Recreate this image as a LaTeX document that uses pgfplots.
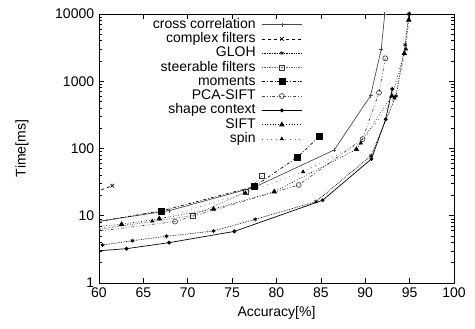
\documentclass[border=0pt]{standalone}
\usepackage{pgfplots}
\pgfplotsset{compat=1.18}
\usepackage{fontspec}
\setmainfont{Liberation Sans}
\begin{document}
\fontsize{14}{16}\selectfont
\begin{tikzpicture}[x=1pt,y=1pt]
\begin{axis}[
  at={(0,0)}, anchor=south west,
  width=355pt, height=269pt, scale only axis,
  xmin=60, xmax=100, ymin=1, ymax=10000,
  ymode=log,
  xtick={60,65,...,100},
  ytick={1,10,100,1000,10000},
  yticklabels={1,10,100,1000,10000},
  /pgf/number format/assume math mode=true,
  tick align=inside,
  major tick length=5pt, minor tick length=3pt,
  axis line style={line width=0.9pt},
  tick style={line width=0.6pt, black},
  xlabel={Accuracy[\%]}, ylabel={Time[ms]},
  xlabel style={at={(axis description cs:0.5,-0.112)}, anchor=center},
  ylabel style={at={(axis description cs:-0.217,0.5)}, anchor=center},
  every axis plot/.append style={line width=0.7pt, mark size=2pt},
  legend plot pos=right,
  legend cell align=right,
  legend style={draw=none, fill=none, at={(0.573,0.988)}, anchor=north east,
    row sep=0pt, column sep=5pt, inner sep=0pt, nodes={inner sep=0.9pt, text height=9.8pt, text depth=2.7pt}},
  legend image code/.code={\draw[mark repeat=2,mark phase=2] plot coordinates {(0pt,0pt) (20pt,0pt) (40pt,0pt)};},
  clip=true,
]
\addplot[color=black!70, solid, mark=+, mark size=2pt] coordinates {(59,7.9) (67.9,11.9) (77.5,26.5) (86.5,95) (90.6,610) (91.8,2985) (92.2,10000)};
\addlegendentry{cross correlation}
\addplot[black, dashed, mark=x, mark options={solid}, mark size=2.5pt] coordinates {(59,21) (61.5,28)};
\addlegendentry{complex filters}
\addplot[black, densely dotted, mark=asterisk, mark options={solid}, mark size=2pt] coordinates {(60.4,3.67) (63.75,4.26) (67.6,4.95) (72.9,5.93) (77.6,8.85) (84.45,16.2) (90.65,78) (93.46,604) (94.5,3500) (94.9,10000)};
\addlegendentry{GLOH}
\addplot[black!60, densely dotted, mark=square, mark options={solid, black!80}, mark size=2.5pt] coordinates {(59,6.0) (70.6,10.1) (76.5,22.3) (78.4,39)};
\addlegendentry{steerable filters}
\addplot[black, dash dot, mark=square*, mark options={solid}, mark size=3pt] coordinates {(59,7.8) (67.0,11.8) (77.46,27) (82.35,74) (84.85,153)};
\addlegendentry{moments}
\addplot[black!70, dash dot dot, mark=o, mark options={solid, black!70}, mark size=2.5pt] coordinates {(59,5.7) (68.56,8.2) (82.5,28.7) (89.7,138) (91.55,676) (92.26,2190)};
\addlegendentry{PCA-SIFT}
\addplot[black, solid, mark=*, mark size=1.6pt] coordinates {(59,2.95) (63.1,3.24) (67.9,3.98) (75.25,5.85) (85.2,17) (90.7,70) (92.3,272) (93.05,767)};
\addlegendentry{shape context}
\addplot[black, dotted, mark=triangle*, mark options={solid}, mark size=2.5pt] coordinates {(59,6.8) (62.55,7.46) (66.8,9.04) (72.9,12.6) (79.75,22.8) (89.0,97) (93.0,604) (94.4,2600) (94.9,8140)};
\addlegendentry{SIFT}
\addplot[black!60, loosely dotted, mark=triangle*, mark options={solid, black}, mark size=1.8pt] coordinates {(59,6.2) (66,8.3) (76.5,22) (83,45) (89.5,120) (93.3,560) (94.6,3000) (95,10000)};
\addlegendentry{spin}
\end{axis}
\path[use as bounding box] (-99pt,-46pt) rectangle (376pt,283pt);
\end{tikzpicture}
\end{document}
